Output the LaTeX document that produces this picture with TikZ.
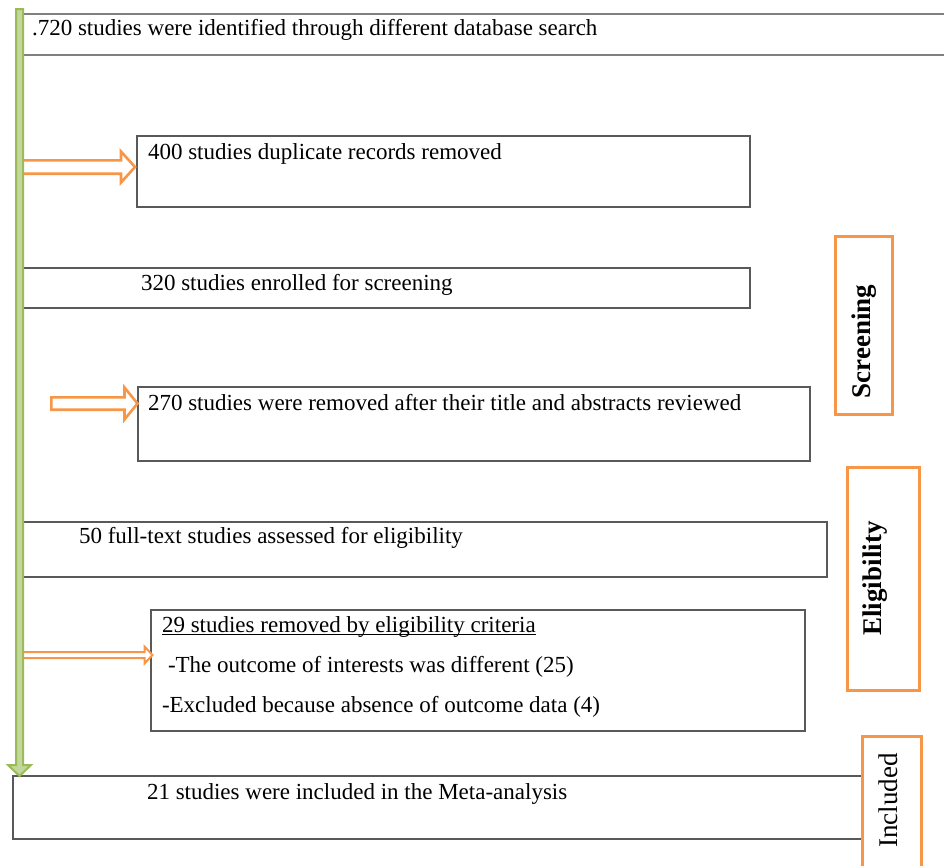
\documentclass[tikz,border=0pt]{standalone}
\usepackage{fontspec}
\setmainfont{Liberation Serif}
\usetikzlibrary{calc}
\definecolor{orng}{HTML}{F79646}
\definecolor{grn}{HTML}{9BBB59}
\definecolor{grnlt}{HTML}{C3D69B}
\definecolor{boxgray}{HTML}{595959}
\newcommand\harrowpath[6]{%
  \draw[#6] let \p1=(#1), \p2=(#2) in
    (\x1,\y2+#3) -- (\x2-#5,\y2+#3) -- (\x2-#5,\y2+#4) -- (\x2,\y2) --
    (\x2-#5,\y2-#4) -- (\x2-#5,\y2-#3) -- (\x1,\y2-#3) -- cycle;}
\newcommand\varrowpath[6]{%
  \draw[#6] let \p1=(#1), \p2=(#2) in
    (\x2-#3,\y1) -- (\x2-#3,\y2+#5) -- (\x2-#4,\y2+#5) -- (\x2,\y2) --
    (\x2+#4,\y2+#5) -- (\x2+#3,\y2+#5) -- (\x2+#3,\y1) -- cycle;}
\begin{document}
\begin{tikzpicture}[x=1pt,y=-1pt,
  box/.style={draw=boxgray,line width=1.1pt,inner sep=0pt,outer sep=0pt,anchor=north west},
  topbox/.style={draw=gray,line width=1.8pt,inner sep=0pt,outer sep=0pt,anchor=north west},
  txt/.style={inner sep=0pt,outer sep=0pt,anchor=base west,font=\fontsize{23}{27}\selectfont},
  side/.style={draw=orng,line width=3pt,inner sep=0pt,outer sep=0pt,anchor=north west},
  sidetxt/.style={inner sep=0pt,outer sep=0pt,anchor=base,rotate=90,font=\fontsize{27}{30}\selectfont},
  oarrow/.style={draw=orng,line width=2.6pt,fill=white,line join=miter},
  oarrowthin/.style={draw=orng,line width=2pt,fill=white,line join=miter},
  garrow/.style={draw=grn,line width=2pt,fill=grnlt,line join=miter}]
\useasboundingbox (0,0) rectangle (944,865);
\clip (0,0) rectangle (944,865);

% main boxes
\node[topbox,minimum width=940pt,minimum height=41pt] (b1) at (20,14) {};
\node[box,minimum width=613pt,minimum height=71pt] (b2) at (137,136) {};
\node[box,minimum width=730pt,minimum height=40pt] (b3) at (20,268) {};
\node[box,minimum width=672pt,minimum height=74pt] (b4) at (138,387) {};
\node[box,minimum width=809pt,minimum height=55pt] (b5) at (18,522) {};
\node[box,minimum width=654pt,minimum height=121pt] (b6) at (151,610) {};
\node[box,minimum width=849pt,minimum height=63pt] (b7) at (13,776) {};

% texts
\node[txt] (t1) at (32,35) {.720 studies were identified through different database search};
\node[txt] (t2) at (148,159) {400 studies duplicate records removed};
\node[txt] (t3) at (141,290) {320 studies enrolled for screening};
\node[txt] (t4) at (148,410) {270 studies were removed after their title and abstracts reviewed};
\node[txt] (t5) at (79,543) {50 full-text studies assessed for eligibility};
\node[txt] (t6a) at (162,632) {29 studies removed by eligibility criteria};
\node[txt] (t6b) at (168,672) {-The outcome of interests was different (25)};
\node[txt] (t6c) at (162,712) {-Excluded because absence of outcome data (4)};
\node[txt] (t7) at (147,799) {21 studies were included in the Meta-analysis};
\draw[line width=0.9pt] ([yshift=-2pt]t6a.base west) -- ([yshift=-2pt]t6a.base east);

% side stage boxes
\node[side,minimum width=57pt,minimum height=178pt] (s1) at (835.5,236.5) {};
\node[side,minimum width=72pt,minimum height=223pt] (s2) at (847.5,467.5) {};
\node[side,minimum width=59pt,minimum height=150pt] (s3) at (862.5,736.5) {};
\node[sidetxt,font=\fontsize{27}{30}\selectfont\bfseries] (l1) at (870,341.5) {Screening};
\node[sidetxt,font=\fontsize{27}{30}\selectfont\bfseries] (l2) at (881,578.5) {Eligibility};
\node[sidetxt] (l3) at (897,800.5) {Included};

% orange exclusion arrows
\coordinate (o1s) at (21.3,167);
\coordinate (o1t) at ([xshift=-2pt]b2.west |- 0,167);
\harrowpath{o1s}{o1t}{6.7pt}{15.5pt}{14pt}{oarrow}
\coordinate (o2s) at (51.3,403.5);
\coordinate (o2t) at ([xshift=-0.5pt]b4.west |- 0,403.5);
\harrowpath{o2s}{o2t}{6.2pt}{16pt}{13pt}{oarrow}
\coordinate (o3s) at (21,655);
\coordinate (o3t) at (152.5,655);
\harrowpath{o3s}{o3t}{3pt}{8.5pt}{8pt}{oarrowthin}

% green flow arrow
\coordinate (g0) at (19.5,9);
\coordinate (g1) at (b7.north west -| 19.5,0);
\varrowpath{g0}{g1}{3.5pt}{11.5pt}{11pt}{garrow}
\end{tikzpicture}
\end{document}
